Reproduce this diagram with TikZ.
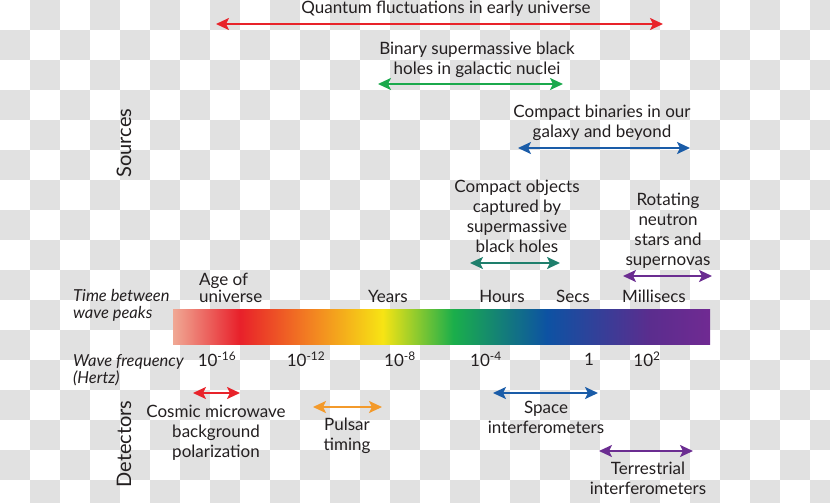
\documentclass[tikz,border=0pt]{standalone}
\usepackage{fontspec}
\setmainfont{Lato}
\usetikzlibrary{arrows.meta}

\definecolor{ink}{HTML}{231F20}
\definecolor{checker}{HTML}{E1E1E1}
\definecolor{gwred}{HTML}{E8232A}
\definecolor{gwgreen}{HTML}{1BA94C}
\definecolor{gwblue}{HTML}{1A5CA8}
\definecolor{gwteal}{HTML}{1E7F6C}
\definecolor{gwpurple}{HTML}{6B2D91}
\definecolor{gworange}{HTML}{F39A2B}
% spectrum stops
\definecolor{bsalmon}{HTML}{F0A894}
\definecolor{bred}{HTML}{E8202A}
\definecolor{borange}{HTML}{F27D22}
\definecolor{byellow}{HTML}{F7E414}
\definecolor{bgreen}{HTML}{1AAE4B}
\definecolor{bblue}{HTML}{0D52A3}
\definecolor{bviolet}{HTML}{5B2D8E}
\definecolor{bpurple}{HTML}{702A92}
\pgfdeclarehorizontalshading{spectrum}{100bp}{color(0bp)=(bsalmon); color(25bp)=(bsalmon);
  color(31.2bp)=(bred); color(37.5bp)=(borange); color(44.5bp)=(byellow);
  color(51.1bp)=(bgreen); color(59.8bp)=(bblue); color(69.4bp)=(bviolet);
  color(75bp)=(bpurple); color(100bp)=(bpurple)}

\begin{document}
\begin{tikzpicture}[x=1pt, y=-1pt,
    lbl/.style={align=center, text=ink, inner sep=0pt,
                font=\fontsize{17}{20}\selectfont},
    axis/.style={align=left, text=ink, inner sep=0pt, anchor=west,
                 font=\fontsize{16.5}{17}\selectfont\itshape},
    tick/.style={text=ink, inner sep=0pt, font=\fontsize{17}{17}\selectfont},
    side/.style={text=ink, inner sep=0pt, rotate=90,
                 font=\fontsize{20}{20}\selectfont},
    arr/.style={<->, >={Stealth[length=13pt,width=12pt,inset=3pt]},
                line width=2.2pt, draw=#1, fill=#1}
]
\useasboundingbox (0,0) rectangle (830,503);
% checkerboard backdrop
\begin{scope}
\clip (0,0) rectangle (830,503);
\foreach \i in {0,...,27}{
  \foreach \j in {0,...,16}{
    \pgfmathtruncatemacro\odd{mod(\i+\j,2)}
    \ifnum\odd=1 \fill[checker] (30*\i,30*\j) rectangle ++(30,30); \fi
  }
}
\end{scope}

% side headings
\node[side] (src) at (124,143) {Sources};
\node[side] (det) at (124,444) {Detectors};

% sources
\node[lbl] (qfluct) at (446,9) {Quantum fluctuations in early universe};
\coordinate (qfluctL) at (216,24);
\coordinate (qfluctR) at (663,24);
\draw[arr=gwred] (qfluctL) -- (qfluctR);

\node[lbl] (smbh) at (477,60) {Binary supermassive black\\holes in galactic nuclei};
\coordinate (smbhL) at (378,84);
\coordinate (smbhR) at (563,84);
\draw[arr=gwgreen] (smbhL) -- (smbhR);

\node[lbl] (cbin) at (602,123) {Compact binaries in our\\galaxy and beyond};
\coordinate (cbinL) at (518,148);
\coordinate (cbinR) at (690,148);
\draw[arr=gwblue] (cbinL) -- (cbinR);

\node[lbl] (emri) at (517,216) {Compact objects\\captured by\\supermassive\\black holes};
\coordinate (emriL) at (470,263);
\coordinate (emriR) at (560,263);
\draw[arr=gwteal] (emriL) -- (emriR);

\node[lbl] (pulsr) at (668,231) {Rotating\\neutron\\stars and\\supernovas};
\coordinate (pulsrL) at (623,276);
\coordinate (pulsrR) at (712,276);
\draw[arr=gwpurple] (pulsrL) -- (pulsrR);

% spectrum bar with scales
\node[axis] (period) at (73,305) {Time between\\wave peaks};
\node[axis] (freq) at (73,370) {Wave frequency\\(Hertz)};
\node[draw=none, shading=spectrum, minimum width=537pt, minimum height=35pt,
      inner sep=0pt, anchor=north west] (bar) at (173,309) {};

\node[axis, font=\fontsize{17}{17}\selectfont] (age) at (199,288) {Age of\\universe};
\node[tick] (years) at (388,296) {Years};
\node[tick] (hours) at (502,296) {Hours};
\node[tick] (secs) at (573,296) {Secs};
\node[tick] (msecs) at (654,296) {Millisecs};

\node[tick] (fa) at (217,359) {10\textsuperscript{-16}};
\node[tick] (fb) at (306,359) {10\textsuperscript{-12}};
\node[tick] (fc) at (400,359) {10\textsuperscript{-8}};
\node[tick] (fd) at (486,359) {10\textsuperscript{-4}};
\node[tick] (fe) at (589,359) {1};
\node[tick] (ff) at (647,359) {10\textsuperscript{2}};

% detectors
\coordinate (cmbL) at (193,393);
\coordinate (cmbR) at (240,393);
\draw[arr=gwred] (cmbL) -- (cmbR);
\node[lbl] (cmb) at (216,433) {Cosmic microwave\\background\\polarization};

\coordinate (ptaL) at (313,407);
\coordinate (ptaR) at (382,407);
\draw[arr=gworange] (ptaL) -- (ptaR);
\node[lbl] (pta) at (347,436) {Pulsar\\timing};

\coordinate (lisaL) at (493,393);
\coordinate (lisaR) at (598,393);
\draw[arr=gwblue] (lisaL) -- (lisaR);
\node[lbl] (lisa) at (546,417) {Space\\interferometers};

\coordinate (ligoL) at (599,451);
\coordinate (ligoR) at (693,451);
\draw[arr=gwpurple] (ligoL) -- (ligoR);
\node[lbl] (ligo) at (648,478) {Terrestrial\\interferometers};
\end{tikzpicture}
\end{document}
